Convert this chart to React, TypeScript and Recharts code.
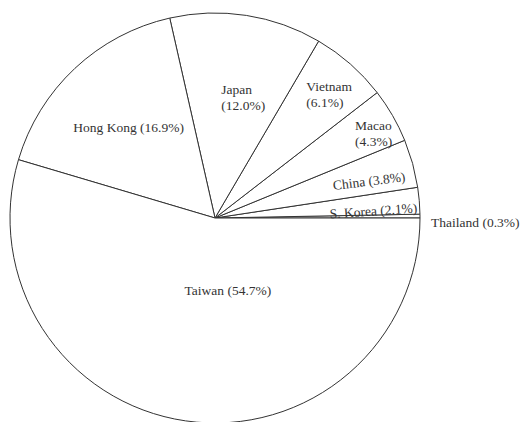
import React from "react";
import { PieChart, Pie, Cell } from "recharts";

const regions = ["Thailand", "S. Korea", "China", "Macao", "Vietnam", "Japan", "Hong Kong", "Taiwan"];
const shares = [0.3, 2.1, 3.8, 4.3, 6.1, 12.0, 16.9, 54.7];
// label placement: radius fraction, angle offset from slice mid (deg), anchor, rotation, two-line
const labelFrac = [1.054, 0.774, 0.773, 0.8, 0.75, 0.59, 0.61, 0.36];
const labelDelta = [-1.6, -2.33, -2.0, 1.35, 4.9, 5.8, 0.6, 18.3];
const labelAnchor = ["start", "middle", "middle", "start", "start", "start", "middle", "middle"];
const labelRotate = [0, -4, -7, 0, 0, 0, 0, 0];
const labelTwoLine = [false, false, false, true, true, true, false, false];

const data = regions.map((name, i) => ({ name, value: shares[i] }));

const RAD = Math.PI / 180;
const FONT = '"Liberation Serif", "Times New Roman", serif';

const renderLabel = (props: any) => {
  const { cx, cy, midAngle, outerRadius, index } = props;
  const r = outerRadius * labelFrac[index];
  const a = (midAngle + labelDelta[index]) * RAD;
  const x = cx + r * Math.cos(a);
  const y = cy - r * Math.sin(a);
  const pct = `(${shares[index].toFixed(1)}%)`;
  const common = {
    fill: "#333",
    fontSize: 13.5,
    fontFamily: FONT,
    textAnchor: labelAnchor[index] as any,
    dominantBaseline: "central" as any,
  };
  if (labelTwoLine[index]) {
    return (
      <text key={`l-${index}`} x={x} y={y} {...common}>
        <tspan x={x} y={y - 8}>{regions[index]}</tspan>
        <tspan x={x} y={y + 8}>{pct}</tspan>
      </text>
    );
  }
  return (
    <text
      key={`l-${index}`}
      x={x}
      y={y}
      {...common}
      transform={labelRotate[index] ? `rotate(${labelRotate[index]} ${x} ${y})` : undefined}
    >
      {`${regions[index]} ${pct}`}
    </text>
  );
};

export default function App() {
  return (
    <div style={{ position: "absolute", left: 0, top: 0, width: 521, height: 422, background: "#fff" }}>
      <PieChart width={521} height={422} margin={{ top: 0, right: 0, bottom: 0, left: 0 }}>
        <Pie
          data={data}
          dataKey="value"
          nameKey="name"
          cx={215}
          cy={218}
          outerRadius={205}
          startAngle={0}
          endAngle={360}
          stroke="#333"
          strokeWidth={1}
          label={renderLabel}
          labelLine={false}
          isAnimationActive={false}
        >
          {data.map((d, i) => (
            <Cell key={d.name} fill="#ffffff" />
          ))}
        </Pie>
      </PieChart>
    </div>
  );
}
